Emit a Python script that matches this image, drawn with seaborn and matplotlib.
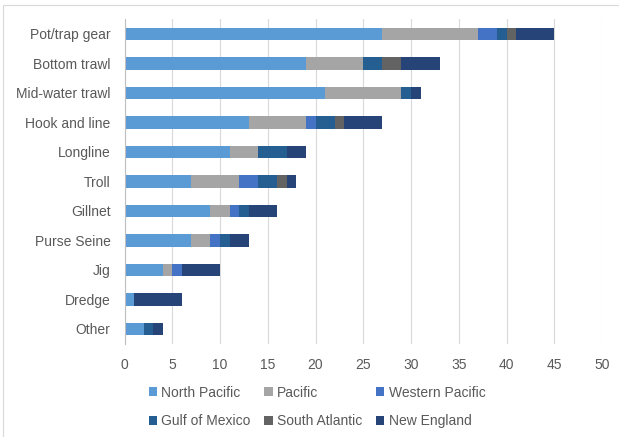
import numpy as np
import pandas as pd
import matplotlib
matplotlib.use("Agg")
import matplotlib.pyplot as plt
from matplotlib.patches import Patch, Rectangle
import seaborn as sns

# Fishing gear types (top to bottom) and counts per region
gear = ["Pot/trap gear", "Bottom trawl", "Mid-water trawl", "Hook and line", "Longline",
        "Troll", "Gillnet", "Purse Seine", "Jig", "Dredge", "Other"]

regions = ["North Pacific", "Pacific", "Western Pacific",
           "Gulf of Mexico", "South Atlantic", "New England"]

north_pacific   = [27, 19, 21, 13, 11, 7, 9, 7, 4, 1, 2]
pacific         = [10, 6, 8, 6, 3, 5, 2, 2, 1, 0, 0]
western_pacific = [2, 0, 0, 1, 0, 2, 1, 1, 1, 0, 0]
gulf_of_mexico  = [1, 2, 1, 2, 3, 2, 1, 1, 0, 0, 1]
south_atlantic  = [1, 2, 0, 1, 0, 1, 0, 0, 0, 0, 0]
new_england     = [4, 4, 1, 4, 2, 1, 3, 2, 4, 5, 1]

colors = ["#5B9BD5", "#A5A5A5", "#4472C4", "#255E91", "#636363", "#264478"]

series = [north_pacific, pacific, western_pacific, gulf_of_mexico, south_atlantic, new_england]
df = pd.DataFrame({name: vals for name, vals in zip(regions, series)}, index=gear)
cum = df.cumsum(axis=1)

sns.set_theme(style="white")
plt.rcParams["font.family"] = ["Liberation Sans", "DejaVu Sans"]
text_color = "#595959"

fig = plt.figure(figsize=(6.19, 4.37), dpi=100)
ax = fig.add_axes([124.5 / 619, 1 - 343.75 / 437, (602 - 124.5) / 619, (343.75 - 19.25) / 437])

# Stacked bars: draw cumulative totals from the outermost segment inwards
for name, col in reversed(list(zip(regions, colors))):
    long = pd.DataFrame({"gear": gear, "value": cum[name].values})
    sns.barplot(data=long, x="value", y="gear", order=gear, orient="h",
                color=col, width=0.42, linewidth=0, saturation=1, ax=ax)

ax.set_xlim(0, 50)
ax.set_xticks(np.arange(0, 51, 5))
ax.set_ylim(len(gear) - 0.5, -0.5)
ax.set_xlabel("")
ax.set_ylabel("")
ax.grid(axis="x", color="#D9D9D9", linewidth=0.8)
ax.grid(axis="y", visible=False)
ax.set_axisbelow(True)
for side in ["top", "right", "bottom"]:
    ax.spines[side].set_visible(False)
ax.spines["left"].set_color("#BFBFBF")
ax.spines["left"].set_linewidth(0.8)
ax.tick_params(axis="x", length=0, pad=10, labelsize=10, labelcolor=text_color)
ax.tick_params(axis="y", length=0, pad=10, labelsize=10, labelcolor=text_color)

handles = [Patch(facecolor=c, edgecolor="none", label=n) for n, c in zip(regions, colors)]
order = [0, 3, 1, 4, 2, 5]
leg = fig.legend([handles[i] for i in order], [regions[i] for i in order],
                 loc="center", bbox_to_anchor=(317 / 619, 1 - 407 / 437),
                 ncol=3, frameon=False, fontsize=10, handlelength=0.6, handleheight=0.6,
                 handletextpad=0.3, columnspacing=1.0, labelspacing=1.05, labelcolor=text_color)

# Chart-area border
fig.add_artist(Rectangle((2.5 / 619, -0.05), 1.1, 1 - 4.5 / 437 + 0.05,
                         transform=fig.transFigure, fill=False,
                         edgecolor="#D9D9D9", linewidth=0.8))

fig.savefig("out.png", dpi=100)
